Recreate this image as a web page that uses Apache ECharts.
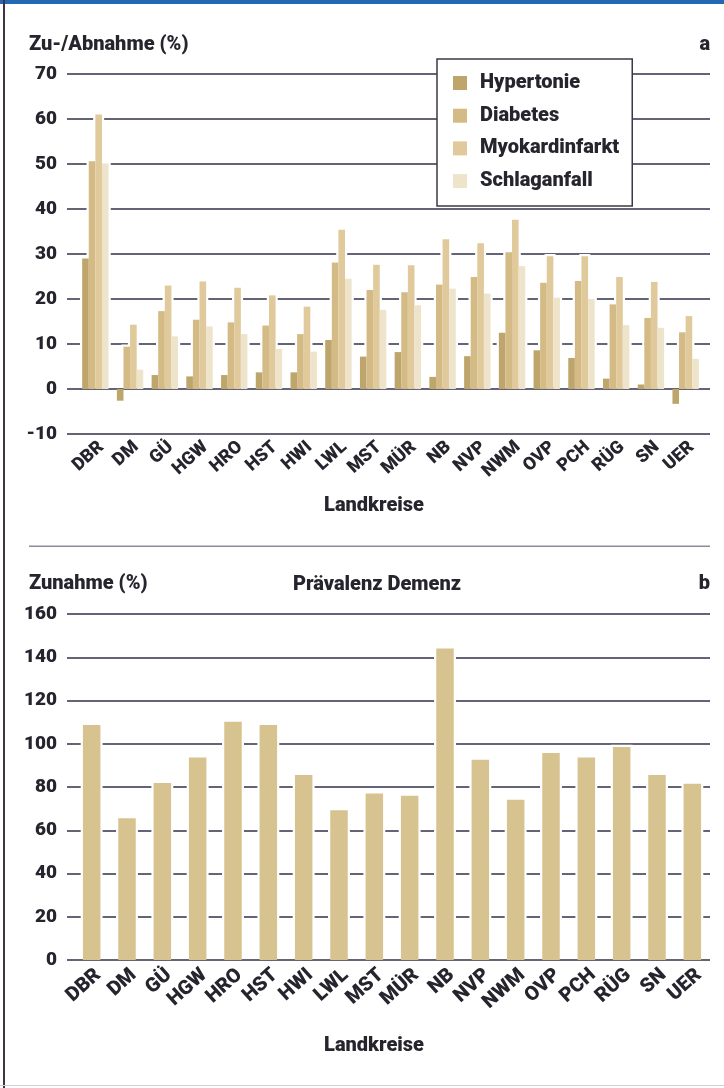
<!DOCTYPE html>
<html>
<head>
<meta charset="utf-8">
<script src="https://cdn.jsdelivr.net/npm/echarts@6/dist/echarts.min.js"></script>
<style>
  html, body { margin: 0; padding: 0; background: #fff; }
  #chart { width: 724px; height: 1088px; }
</style>
</head>
<body>
<div id="chart"></div>
<script>
// Landkreise (districts)
var categories = ['DBR', 'DM', 'GÜ', 'HGW', 'HRO', 'HST', 'HWI', 'LWL', 'MST', 'MÜR', 'NB', 'NVP', 'NWM', 'OVP', 'PCH', 'RÜG', 'SN', 'UER'];

// Panel a: change in % per disease
var hypertonie     = [29.0, -2.6, 3.1, 2.8, 3.1, 3.7, 3.7, 10.9, 7.2, 8.2, 2.7, 7.3, 12.5, 8.6, 6.9, 2.3, 1.0, -3.3];
var diabetes       = [50.6, 9.4, 17.3, 15.4, 14.8, 14.1, 12.2, 28.1, 22.0, 21.5, 23.2, 24.9, 30.4, 23.6, 24.0, 18.8, 15.8, 12.6];
var myokardinfarkt = [61.0, 14.3, 23.0, 23.9, 22.5, 20.8, 18.3, 35.4, 27.6, 27.5, 33.3, 32.4, 37.6, 29.5, 29.5, 24.9, 23.8, 16.2];
var schlaganfall   = [50.1, 4.3, 11.7, 13.9, 12.2, 8.9, 8.3, 24.5, 17.6, 18.6, 22.3, 21.2, 27.3, 20.3, 20.0, 14.2, 13.6, 6.7];
var seriesNames = ['Hypertonie', 'Diabetes', 'Myokardinfarkt', 'Schlaganfall'];

// Panel b: increase in % of dementia prevalence
var demenz = [108.7, 65.5, 81.9, 93.6, 110.2, 108.7, 85.5, 69.3, 77.0, 76.0, 144.1, 92.6, 74.1, 95.7, 93.6, 98.5, 85.5, 81.5];

// Axis ranges
var yTicksA = { min: -10, max: 70, interval: 10 };
var yTicksB = { min: 0, max: 160, interval: 20 };

var FONT = 'Roboto, "Liberation Sans", sans-serif';
var WEIGHT = 900;
var TEXT = '#26252e';
var GRID_LINE = '#31304a';
var colorsA = ['#bda56c', '#d4ba84', '#e0c99b', '#eee4cb'];
var colorB = '#d7c390';

var BW_A = 6.6;   // bar width panel a
var BW_B = 17.5;  // bar width panel b
var PAD = 2.2;    // white clearance around bars

// white clearance drawn under each bar so the grid lines break around it
function haloRenderer(bw, n) {
  return function (params, api) {
    var cat = api.value(0), k = api.value(1), v = api.value(2);
    var base = api.coord([cat, 0]);
    var tip = api.coord([cat, v]);
    var cx = base[0] + (k - (n - 1) / 2) * bw;
    var x0 = cx - bw / 2 - PAD;
    var y0, h;
    if (v >= 0) { y0 = tip[1] - PAD; h = base[1] - 1.2 - y0; }
    else { y0 = base[1] + 1.2; h = tip[1] + PAD - y0; }
    return { type: 'rect', shape: { x: x0, y: y0, width: bw + 2 * PAD, height: Math.max(h, 0) }, style: { fill: '#fff' } };
  };
}

var groupA = [hypertonie, diabetes, myokardinfarkt, schlaganfall];
var haloDataA = [];
groupA.forEach(function (arr, k) { arr.forEach(function (v, i) { haloDataA.push([i, k, v]); }); });
var haloDataB = demenz.map(function (v, i) { return [i, 0, v]; });

function valueAxis(gridIndex, ticks) {
  return {
    type: 'value', gridIndex: gridIndex, min: ticks.min, max: ticks.max, interval: ticks.interval,
    axisLine: { show: false }, axisTick: { show: false },
    axisLabel: { margin: 10, color: TEXT, fontFamily: FONT, fontWeight: WEIGHT, fontSize: 19 },
    splitLine: { show: true, lineStyle: { color: GRID_LINE, width: 1.5 } }
  };
}
function hiddenValueAxis(gridIndex, ticks) {
  return { type: 'value', gridIndex: gridIndex, min: ticks.min, max: ticks.max, show: false };
}
function categoryAxis(gridIndex, size, margin) {
  return {
    type: 'category', gridIndex: gridIndex, data: categories,
    axisLine: { show: false }, axisTick: { show: false },
    axisLabel: { interval: 0, rotate: 42, margin: margin, verticalAlign: 'top', color: TEXT, fontFamily: FONT, fontWeight: WEIGHT, fontSize: size }
  };
}

var barSeriesA = groupA.map(function (arr, k) {
  return {
    type: 'bar', name: seriesNames[k], xAxisIndex: 1, yAxisIndex: 1,
    data: arr, barWidth: BW_A, barGap: '0%', z: 3,
    itemStyle: { color: colorsA[k] }
  };
});

function label(opts, text, size) {
  var s = { text: text, fill: TEXT, font: WEIGHT + ' ' + size + 'px ' + FONT };
  if (opts.align) { s.align = opts.align; s.verticalAlign = 'middle'; delete opts.align; }
  return Object.assign({ type: 'text', z: 20, style: s }, opts);
}

var option = {
  backgroundColor: '#fff',
  animation: false,
  grid: [
    { left: 67, top: 74, width: 643, height: 360 },
    { left: 78, top: 74, width: 625, height: 360 },
    { left: 67, top: 614, width: 643, height: 346 },
    { left: 74, top: 614, width: 636, height: 346 }
  ],
  xAxis: [
    { type: 'value', gridIndex: 0, show: false },
    categoryAxis(1, 18, 4),
    { type: 'value', gridIndex: 2, show: false },
    categoryAxis(3, 20, 5)
  ],
  yAxis: [
    valueAxis(0, yTicksA),
    hiddenValueAxis(1, yTicksA),
    valueAxis(2, yTicksB),
    hiddenValueAxis(3, yTicksB)
  ],
  legend: {
    data: seriesNames,
    orient: 'vertical',
    left: 437, top: 59,
    padding: [14, 13, 15, 16],
    itemWidth: 14, itemHeight: 14, itemGap: 12.7,
    backgroundColor: '#fff',
    borderColor: '#3a3848', borderWidth: 1.5,
    icon: 'rect',
    textStyle: { color: TEXT, fontFamily: FONT, fontWeight: WEIGHT, fontSize: 20, padding: [0, 0, 0, 8] },
    z: 10
  },
  series: barSeriesA.concat([
    {
      type: 'custom', xAxisIndex: 1, yAxisIndex: 1, silent: true, z: 1,
      renderItem: haloRenderer(BW_A, 4), data: haloDataA, encode: { x: 0, y: 2 }
    },
    {
      type: 'bar', name: 'Demenz', xAxisIndex: 3, yAxisIndex: 3,
      data: demenz, barWidth: BW_B, z: 3, itemStyle: { color: colorB }
    },
    {
      type: 'custom', xAxisIndex: 3, yAxisIndex: 3, silent: true, z: 1,
      renderItem: haloRenderer(BW_B, 1), data: haloDataB, encode: { x: 0, y: 2 }
    }
  ]),
  graphic: [
    // page frame
    { type: 'rect', shape: { x: 0, y: 0, width: 724, height: 4 }, style: { fill: '#2268b2' }, z: 20 },
    { type: 'rect', shape: { x: 3, y: 0, width: 2, height: 1088 }, style: { fill: '#45323f' }, z: 20 },
    { type: 'rect', shape: { x: 0, y: 1085, width: 724, height: 1 }, style: { fill: '#cfcfd6' }, z: 20 },
    // divider between panels
    { type: 'rect', shape: { x: 29, y: 545.5, width: 681, height: 1.5 }, style: { fill: '#8d8c9c' }, z: 20 },
    // panel titles
    label({ left: 29, top: 35 }, 'Zu-/Abnahme (%)', 20),
    label({ right: 14, top: 35 }, 'a', 20),
    label({ left: 29, top: 574 }, 'Zunahme (%)', 20),
    label({ x: 377, y: 585, align: 'center' }, 'Prävalenz Demenz', 20),
    label({ right: 14, top: 574 }, 'b', 20),
    // axis names
    label({ x: 374, y: 506, align: 'center' }, 'Landkreise', 20),
    label({ x: 374, y: 1046, align: 'center' }, 'Landkreise', 20)
  ]
};

var chart = echarts.init(document.getElementById('chart'), null, { renderer: 'canvas' });
chart.setOption(option);
</script>
</body>
</html>
